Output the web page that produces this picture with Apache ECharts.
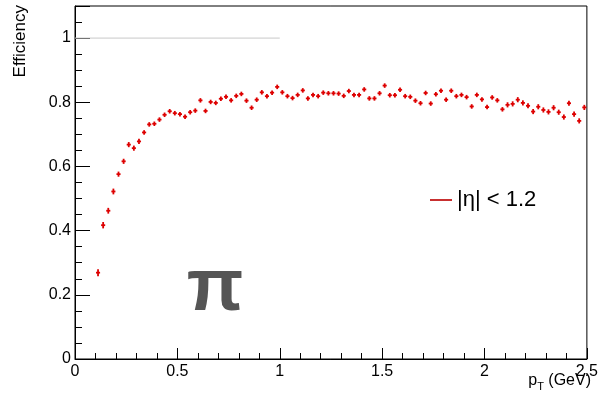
<!DOCTYPE html>
<html><head><meta charset="utf-8">
<script src="https://cdn.jsdelivr.net/npm/echarts@6/dist/echarts.min.js"></script>
<style>html,body{margin:0;padding:0;background:#fff}#c{width:601px;height:403px}</style>
</head><body><div id="c"></div>
<script>
// ---- data ----
const ptCenters = [
  0.1125,0.1375,0.1625,0.1875,0.2125,0.2375,0.2625,0.2875,
  0.3125,0.3375,0.3625,0.3875,0.4125,0.4375,0.4625,0.4875,
  0.5125,0.5375,0.5625,0.5875,0.6125,0.6375,0.6625,0.6875,
  0.7125,0.7375,0.7625,0.7875,0.8125,0.8375,0.8625,0.8875,
  0.9125,0.9375,0.9625,0.9875,1.0125,1.0375,1.0625,1.0875,
  1.1125,1.1375,1.1625,1.1875,1.2125,1.2375,1.2625,1.2875,
  1.3125,1.3375,1.3625,1.3875,1.4125,1.4375,1.4625,1.4875,
  1.5125,1.5375,1.5625,1.5875,1.6125,1.6375,1.6625,1.6875,
  1.7125,1.7375,1.7625,1.7875,1.8125,1.8375,1.8625,1.8875,
  1.9125,1.9375,1.9625,1.9875,2.0125,2.0375,2.0625,2.0875,
  2.1125,2.1375,2.1625,2.1875,2.2125,2.2375,2.2625,2.2875,
  2.3125,2.3375,2.3625,2.3875,2.4125,2.4375,2.4625,2.4875
];
const efficiency = [
  0.269,0.417,0.462,0.522,0.576,0.616,0.668,0.657,
  0.678,0.706,0.731,0.733,0.746,0.761,0.772,0.766,
  0.763,0.755,0.769,0.774,0.806,0.773,0.801,0.798,
  0.811,0.817,0.806,0.820,0.826,0.805,0.783,0.808,
  0.831,0.819,0.830,0.848,0.831,0.819,0.813,0.823,
  0.837,0.812,0.823,0.819,0.830,0.828,0.828,0.827,
  0.820,0.835,0.823,0.823,0.840,0.812,0.812,0.828,
  0.852,0.822,0.822,0.839,0.819,0.817,0.805,0.797,
  0.829,0.796,0.825,0.836,0.808,0.836,0.819,0.823,
  0.816,0.787,0.823,0.809,0.785,0.815,0.806,0.778,
  0.792,0.795,0.808,0.798,0.789,0.771,0.786,0.776,
  0.770,0.783,0.769,0.754,0.797,0.763,0.742,0.784
];
const effError = [
  0.011,0.010,0.009,0.009,0.008,0.008,0.008,0.008,
  0.008,0.007,0.007,0.007,0.007,0.007,0.007,0.007,
  0.007,0.007,0.007,0.007,0.007,0.007,0.007,0.007,
  0.007,0.007,0.007,0.007,0.007,0.007,0.007,0.007,
  0.007,0.007,0.007,0.007,0.007,0.007,0.007,0.007,
  0.007,0.007,0.007,0.007,0.007,0.007,0.007,0.007,
  0.007,0.007,0.007,0.007,0.007,0.007,0.007,0.007,
  0.007,0.007,0.007,0.007,0.007,0.007,0.007,0.007,
  0.007,0.007,0.007,0.007,0.007,0.007,0.007,0.007,
  0.007,0.007,0.007,0.007,0.007,0.007,0.007,0.007,
  0.008,0.008,0.008,0.008,0.008,0.008,0.008,0.008,
  0.008,0.008,0.008,0.008,0.008,0.008,0.008,0.008
];
const ptHalfBin = 0.01;
const unityLine = [[0, 1], [1, 1]];
const legendLabel = '|η| < 1.2';
const particleLabel = 'π';
const yTitle = 'Efficiency';

// ---- chart ----
const FONT = '"Liberation Sans", Arial, Helvetica, sans-serif';
const chart = echarts.init(document.getElementById('c'), null, {renderer: 'canvas'});
const points = ptCenters.map((x, i) => [x, efficiency[i], effError[i]]);
const RED = '#dd0000';

const option = {
  animation: false,
  backgroundColor: '#fff',
  grid: {left: 75, right: 9, top: 6, bottom: 44, show: true, borderColor: '#000', borderWidth: 1, backgroundColor: 'transparent'},
  xAxis: {
    type: 'value', min: 0, max: 2.5, interval: 0.5,
    axisLine: {lineStyle: {color: '#000', width: 1}},
    axisTick: {inside: true, length: 11, lineStyle: {color: '#000'}},
    minorTick: {show: true, splitNumber: 5, length: 6, lineStyle: {color: '#000'}},
    splitLine: {show: false}, minorSplitLine: {show: false},
    axisLabel: {color: '#000', fontSize: 16, fontFamily: FONT, margin: 5}
  },
  yAxis: {
    type: 'value', min: 0, max: 1.1, interval: 0.2,
    axisLine: {lineStyle: {color: '#000', width: 1}},
    axisTick: {inside: true, length: 15, lineStyle: {color: '#000'}},
    minorTick: {show: true, splitNumber: 4, length: 7, lineStyle: {color: '#000'}},
    splitLine: {show: false}, minorSplitLine: {show: false},
    axisLabel: {color: '#000', fontSize: 16, fontFamily: FONT, margin: 4, showMaxLabel: false}
  },
  legend: {
    left: 430, top: 189, padding: 0, itemWidth: 22, itemHeight: 2, itemGap: 0,
    textStyle: {fontSize: 22, fontFamily: FONT, color: '#000'},
    data: [{name: legendLabel, icon: 'rect', itemStyle: {color: '#c83030'}}]
  },
  graphic: [
    {type: 'text', x: 20, y: 5, rotation: Math.PI / 2,
     style: {text: yTitle, font: '17px ' + FONT, fill: '#000', align: 'right', verticalAlign: 'middle'}},
    {type: 'text', right: 10, top: 373,
     style: {text: '{p|p}{s|T}{p| (GeV)}', fill: '#000',
       rich: {p: {fontSize: 16, fontFamily: FONT, lineHeight: 22, verticalAlign: 'middle'},
              s: {fontSize: 11, fontFamily: FONT, lineHeight: 22, verticalAlign: 'bottom'}}}},
    {type: 'text', x: 215, y: 290,
     style: {text: particleLabel, font: 'bold 74px "Liberation Sans"', fill: '#555555', align: 'center', verticalAlign: 'middle'}}
  ],
  series: [{
    type: 'line', data: unityLine, symbol: 'none', silent: true,
    lineStyle: {color: '#c8c8c8', width: 1}, z: 1
  }, {
    name: legendLabel, type: 'custom', data: points, encode: {x: 0, y: 1},
    itemStyle: {color: RED},
    renderItem: function (params, api) {
      const x = api.value(0), y = api.value(1), e = api.value(2);
      const l = api.coord([x - ptHalfBin, y]), r = api.coord([x + ptHalfBin, y]);
      const b = api.coord([x, y - e]), t = api.coord([x, y + e]);
      const st = {stroke: RED, lineWidth: 1.8};
      return {type: 'group', children: [
        {type: 'line', shape: {x1: l[0], y1: l[1], x2: r[0], y2: r[1]}, style: st},
        {type: 'line', shape: {x1: b[0], y1: b[1], x2: t[0], y2: t[1]}, style: st}
      ]};
    }
  }]
};
chart.setOption(option);
</script></body></html>
